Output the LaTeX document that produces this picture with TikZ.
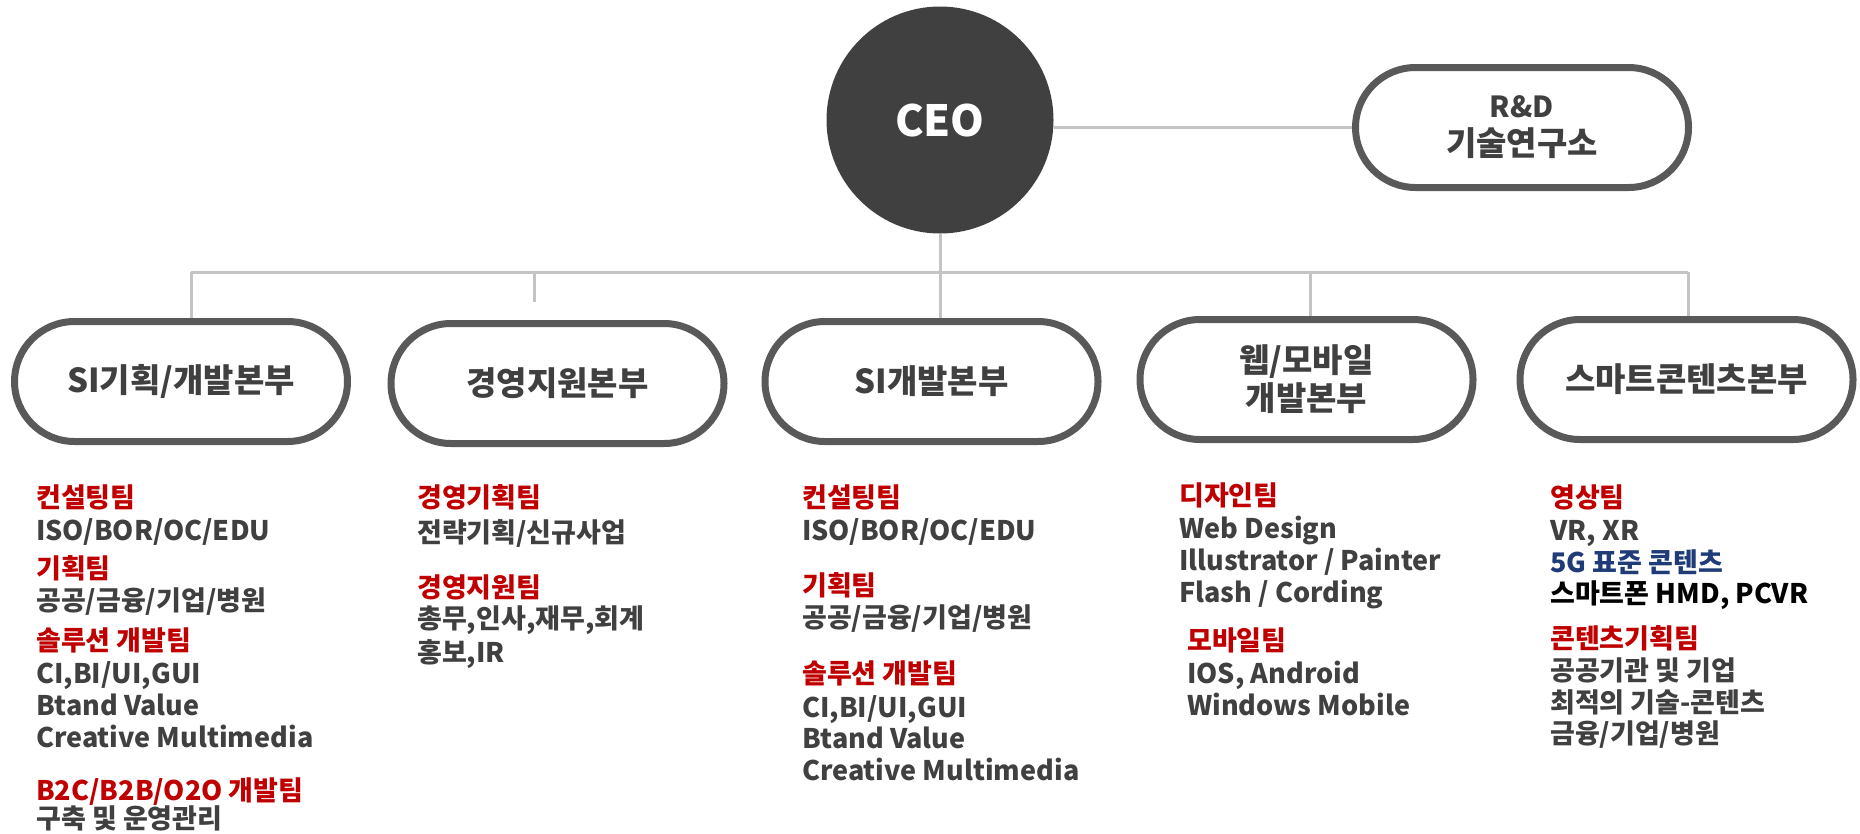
\documentclass[tikz,border=0pt]{standalone}
\usepackage{fontspec}
\setmainfont{Noto Sans CJK KR}
\usetikzlibrary{backgrounds}
\definecolor{ceogray}{HTML}{404040}
\definecolor{boxline}{HTML}{595959}
\definecolor{linkgray}{HTML}{C4C4C4}
\definecolor{txtgray}{HTML}{404040}
\definecolor{teamred}{HTML}{C00000}
\definecolor{navy}{HTML}{203C78}
\tikzset{
  dept/.style={draw=boxline, line width=7pt, fill=white, rounded corners=60pt,
    minimum width=333pt, minimum height=120pt, inner sep=0pt, align=center,
    text=txtgray, font=\fontsize{33}{38}\selectfont\bfseries},
  link/.style={draw=linkgray, line width=3pt},
  team/.style={anchor=base west, inner sep=0pt, text=teamred,
    font=\fontsize{27}{32}\selectfont\bfseries},
  item/.style={team, text=txtgray},
}
\begin{document}
\begin{tikzpicture}[x=1pt,y=-1pt]
    \useasboundingbox (0,0) rectangle (1860,833);
    % top
    \node[circle, fill=ceogray, minimum size=227pt, inner sep=0pt, text=white,
      font=\fontsize{43}{50}\selectfont\bfseries] (ceo) at (940,120) {CEO};
    \node[dept] (rnd) at (1522,127.5) {{\fontsize{29}{38}\selectfont R\&D}\\기술연구소};
    % departments
    \node[dept] (siplan) at (181,381.5) {SI기획/개발본부};
    \node[dept] (mgmt) at (557.5,383.5) {경영지원본부};
    \node[dept] (sidev) at (931.5,381.5) {SI개발본부};
    \node[dept] (web) at (1306.5,379.5) {웹/모바일\\개발본부};
    \node[dept] (smart) at (1686.5,379.5) {스마트콘텐츠본부};
    \begin{scope}[on background layer]
      \draw[link] (ceo.east |- rnd.west) -- (rnd.west);
      \draw[link] (ceo.south) -- (ceo.south |- sidev.north);
      \coordinate (b1) at (191,272);
      \coordinate (b2) at (534,272);
      \coordinate (b4) at (1310,272);
      \coordinate (b5) at (1688,272);
      \draw[link] (b1) -- (b5);
      \draw[link] (b1) -- (b1 |- siplan.north);
      \draw[link] (b2) -- ++(0,30);
      \draw[link] (b4) -- (b4 |- web.north);
      \draw[link] (b5) -- (b5 |- smart.north);
    \end{scope}
    % SI기획/개발본부
    \node[team] (c1a) at (36,507) {컨설팅팀};
    \node[item] (c1b) at (36,540) {ISO/BOR/OC/EDU};
    \node[team] (c1c) at (36,578) {기획팀};
    \node[item] (c1d) at (36,610) {공공/금융/기업/병원};
    \node[team] (c1e) at (36,650) {솔루션 개발팀};
    \node[item] (c1f) at (36,683) {CI,BI/UI,GUI};
    \node[item] (c1g) at (36,715) {Btand Value};
    \node[item] (c1h) at (36,747) {Creative Multimedia};
    \node[team] (c1i) at (36,800) {B2C/B2B/O2O 개발팀};
    \node[item] (c1j) at (36,828) {구축 및 운영관리};
    % 경영지원본부
    \node[team] (c2a) at (417,507) {경영기획팀};
    \node[item] (c2b) at (417,542) {전략기획/신규사업};
    \node[team] (c2c) at (417,597) {경영지원팀};
    \node[item] (c2d) at (417,628) {총무,인사,재무,회계};
    \node[item] (c2e) at (417,662) {홍보,IR};
    % SI개발본부
    \node[team] (c3a) at (802,507) {컨설팅팀};
    \node[item] (c3b) at (802,540) {ISO/BOR/OC/EDU};
    \node[team] (c3c) at (802,595) {기획팀};
    \node[item] (c3d) at (802,627) {공공/금융/기업/병원};
    \node[team] (c3e) at (802,683) {솔루션 개발팀};
    \node[item] (c3f) at (802,717) {CI,BI/UI,GUI};
    \node[item] (c3g) at (802,748) {Btand Value};
    \node[item] (c3h) at (802,780) {Creative Multimedia};
    % 웹/모바일 개발본부
    \node[team] (c4a) at (1179,505) {디자인팀};
    \node[item] (c4b) at (1179,538) {Web Design};
    \node[item] (c4c) at (1179,570) {Illustrator / Painter};
    \node[item] (c4d) at (1179,602) {Flash / Cording};
    \node[team] (c4e) at (1187,650) {모바일팀};
    \node[item] (c4f) at (1187,683) {IOS, Android};
    \node[item] (c4g) at (1187,715) {Windows Mobile};
    % 스마트콘텐츠본부
    \node[team] (c5a) at (1550,507) {영상팀};
    \node[item] (c5b) at (1550,540) {VR, XR};
    \node[item, text=navy] (c5c) at (1550,572) {5G 표준 콘텐츠};
    \node[item, text=black] (c5d) at (1550,603) {스마트폰 HMD, PCVR};
    \node[team] (c5e) at (1550,648) {콘텐츠기획팀};
    \node[item] (c5f) at (1550,680) {공공기관 및 기업};
    \node[item] (c5g) at (1550,712) {최적의 기술-콘텐츠};
    \node[item] (c5h) at (1550,743) {금융/기업/병원};
\end{tikzpicture}
\end{document}
